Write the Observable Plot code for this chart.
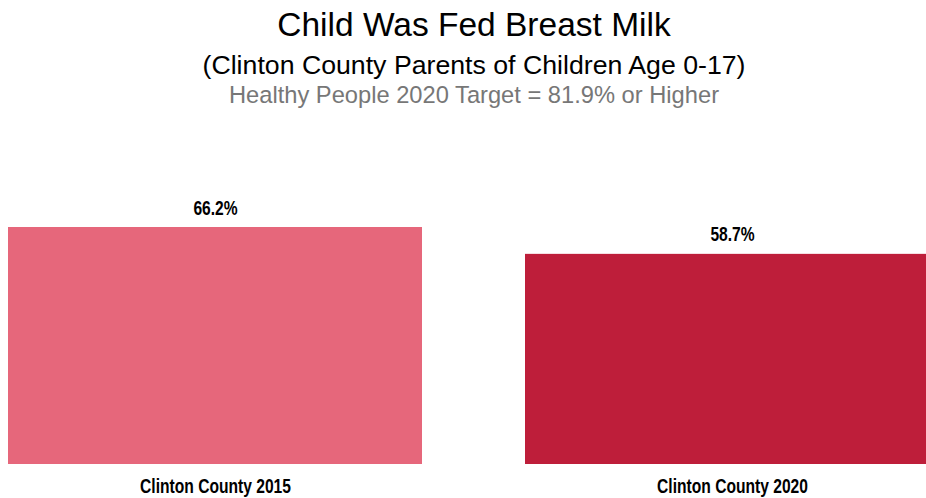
<!DOCTYPE html>
<html><head><meta charset="utf-8">
<script src="https://cdn.jsdelivr.net/npm/d3@7"></script>
<script src="https://cdn.jsdelivr.net/npm/@observablehq/plot@0.6"></script>
<style>
html,body{margin:0;padding:0;background:#fff;}
body{width:926px;height:498px;overflow:hidden;font-family:"Liberation Sans",Arial,sans-serif;}
#titles{height:100px;text-align:center;color:#000;white-space:nowrap;padding-left:22px;}
.t1{font-size:33.5px;line-height:40px;padding-top:5px;}
.t2{font-size:26.7px;line-height:41px;}
.t3{font-size:23.7px;line-height:19px;color:#777;}
#chart svg{display:block;overflow:hidden;}
</style></head><body>
<div id="titles">
<div class="t1">Child Was Fed Breast Milk</div>
<div class="t2">(Clinton County Parents of Children Age 0-17)</div>
<div class="t3">Healthy People 2020 Target = 81.9% or Higher</div>
</div>
<div id="chart"></div>
<script>
const categories = ["Clinton County 2015", "Clinton County 2020"];
const values = [66.2, 58.7];
const valueLabels = ["66.2%", "58.7%"];
const colors = ["#E6677B", "#BE1E3A"];

const data = categories.map((c, i) => ({category: c, value: values[i], label: valueLabels[i]}));
const labelFont = '"Liberation Sans",Arial,sans-serif';

const chart = Plot.plot({
  width: 926,
  height: 398,
  marginTop: 6,
  marginBottom: 34,
  marginLeft: 8,
  marginRight: 0,
  x: {domain: categories, range: [8, 939], paddingInner: 0.2, paddingOuter: 0, label: null},
  y: {domain: [0, 100], axis: null},
  color: {domain: categories, range: colors},
  marks: [
    Plot.barY(data, {x: "category", y: "value", fill: "category"}),
    Plot.text(data, {x: "category", y: "value", text: "label", dy: -13, lineAnchor: "bottom",
      fontWeight: "bold", fontSize: 20, fontFamily: labelFont, fill: "#000"}),
    Plot.axisX({tickSize: 0, tickPadding: 14, fontSize: 20, fontWeight: "bold",
      fontFamily: labelFont, fill: "#000", label: null})
  ]
});
document.getElementById("chart").appendChild(chart);
// condense the bold labels horizontally (narrow typeface look)
chart.querySelectorAll("text").forEach(t => {
  const w = t.getComputedTextLength();
  if (w > 0) {
    t.setAttribute("textLength", (w * 0.78).toFixed(1));
    t.setAttribute("lengthAdjust", "spacingAndGlyphs");
  }
});
</script>
</body></html>
